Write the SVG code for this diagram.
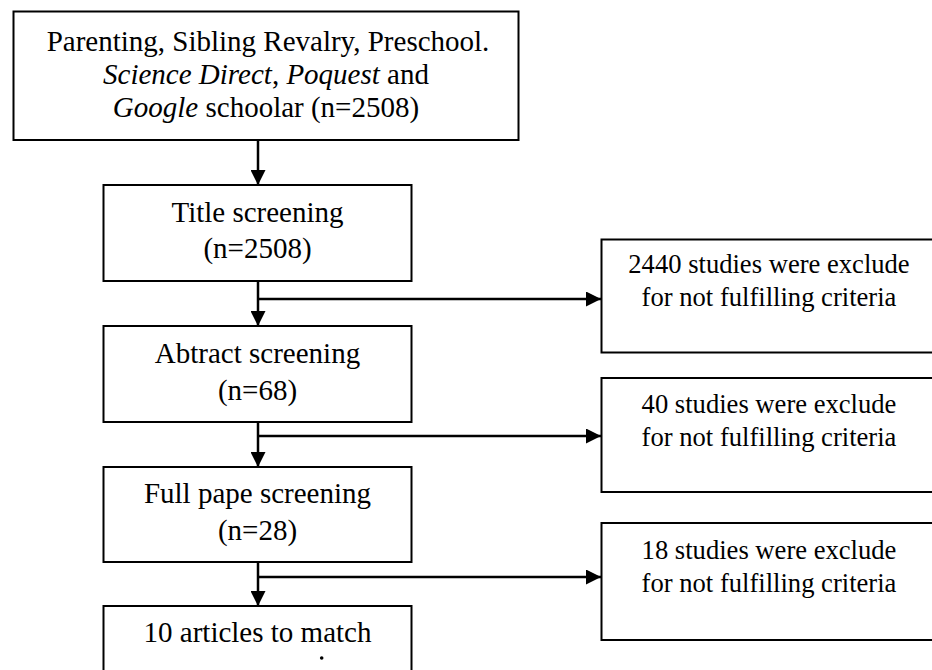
<svg xmlns="http://www.w3.org/2000/svg" width="932" height="670" viewBox="0 0 932 670">
  <style>
    .box { fill: #ffffff; stroke: #000000; stroke-width: 2; }
    .lbl { font-family: "Liberation Serif", "Times New Roman", serif; font-size: 29px; fill: #000000; text-anchor: middle; }
    .sm { font-size: 26.6px; }
    .it { font-style: italic; }
    .conn { fill: none; stroke: #000000; stroke-width: 2.5; }
  </style>
  <defs>
    <marker id="arrow" markerUnits="userSpaceOnUse" markerWidth="16" markerHeight="15" refX="15" refY="7.5" orient="auto">
      <path d="M0,0 L15,7.5 L0,15 Z" fill="#000000"/>
    </marker>
  </defs>
  <rect width="932" height="670" fill="#ffffff"/>

  <g id="connectors">
    <line class="conn" x1="258" y1="140" x2="258" y2="185" marker-end="url(#arrow)"/>
    <line class="conn" x1="258" y1="281" x2="258" y2="326" marker-end="url(#arrow)"/>
    <line class="conn" x1="257" y1="299" x2="601" y2="299" marker-end="url(#arrow)"/>
    <line class="conn" x1="258" y1="422" x2="258" y2="467" marker-end="url(#arrow)"/>
    <line class="conn" x1="257" y1="436" x2="601" y2="436" marker-end="url(#arrow)"/>
    <line class="conn" x1="258" y1="562" x2="258" y2="606" marker-end="url(#arrow)"/>
    <line class="conn" x1="257" y1="577" x2="601" y2="577" marker-end="url(#arrow)"/>
  </g>

  <g id="search">
    <rect class="box" x="13.5" y="11.5" width="505" height="128.5"/>
    <text class="lbl" x="268" y="51">Parenting, Sibling Revalry, Preschool.</text>
    <text class="lbl" x="266" y="84"><tspan class="it">Science Direct</tspan>, <tspan class="it">Poquest</tspan> and</text>
    <text class="lbl" x="266" y="117"><tspan class="it">Google</tspan> schoolar (n=2508)</text>
  </g>

  <g id="title">
    <rect class="box" x="103.5" y="185" width="308" height="96"/>
    <text class="lbl" x="257.5" y="222">Title screening</text>
    <text class="lbl" x="257.5" y="258">(n=2508)</text>
  </g>

  <g id="abstract">
    <rect class="box" x="103.5" y="326" width="308" height="96"/>
    <text class="lbl" x="257.5" y="363">Abtract screening</text>
    <text class="lbl" x="257.5" y="400">(n=68)</text>
  </g>

  <g id="fullpaper">
    <rect class="box" x="103.5" y="467" width="308" height="95"/>
    <text class="lbl" x="257.5" y="503">Full pape screening</text>
    <text class="lbl" x="257.5" y="540">(n=28)</text>
  </g>

  <g id="articles">
    <rect class="box" x="103.5" y="606" width="308" height="80"/>
    <text class="lbl" x="257.5" y="642">10 articles to match</text>
    <circle cx="321.7" cy="658" r="1.8" fill="#000000"/>
  </g>

  <g id="excl1">
    <rect class="box" x="601.5" y="239.5" width="336" height="113"/>
    <text class="lbl sm" x="769" y="273">2440 studies were exclude</text>
    <text class="lbl sm" x="769" y="306">for not fulfilling criteria</text>
  </g>

  <g id="excl2">
    <rect class="box" x="601.5" y="378" width="336" height="114"/>
    <text class="lbl sm" x="769" y="413">40 studies were exclude</text>
    <text class="lbl sm" x="769" y="446">for not fulfilling criteria</text>
  </g>

  <g id="excl3">
    <rect class="box" x="601.5" y="523" width="336" height="117"/>
    <text class="lbl sm" x="769" y="559">18 studies were exclude</text>
    <text class="lbl sm" x="769" y="592">for not fulfilling criteria</text>
  </g>
</svg>
